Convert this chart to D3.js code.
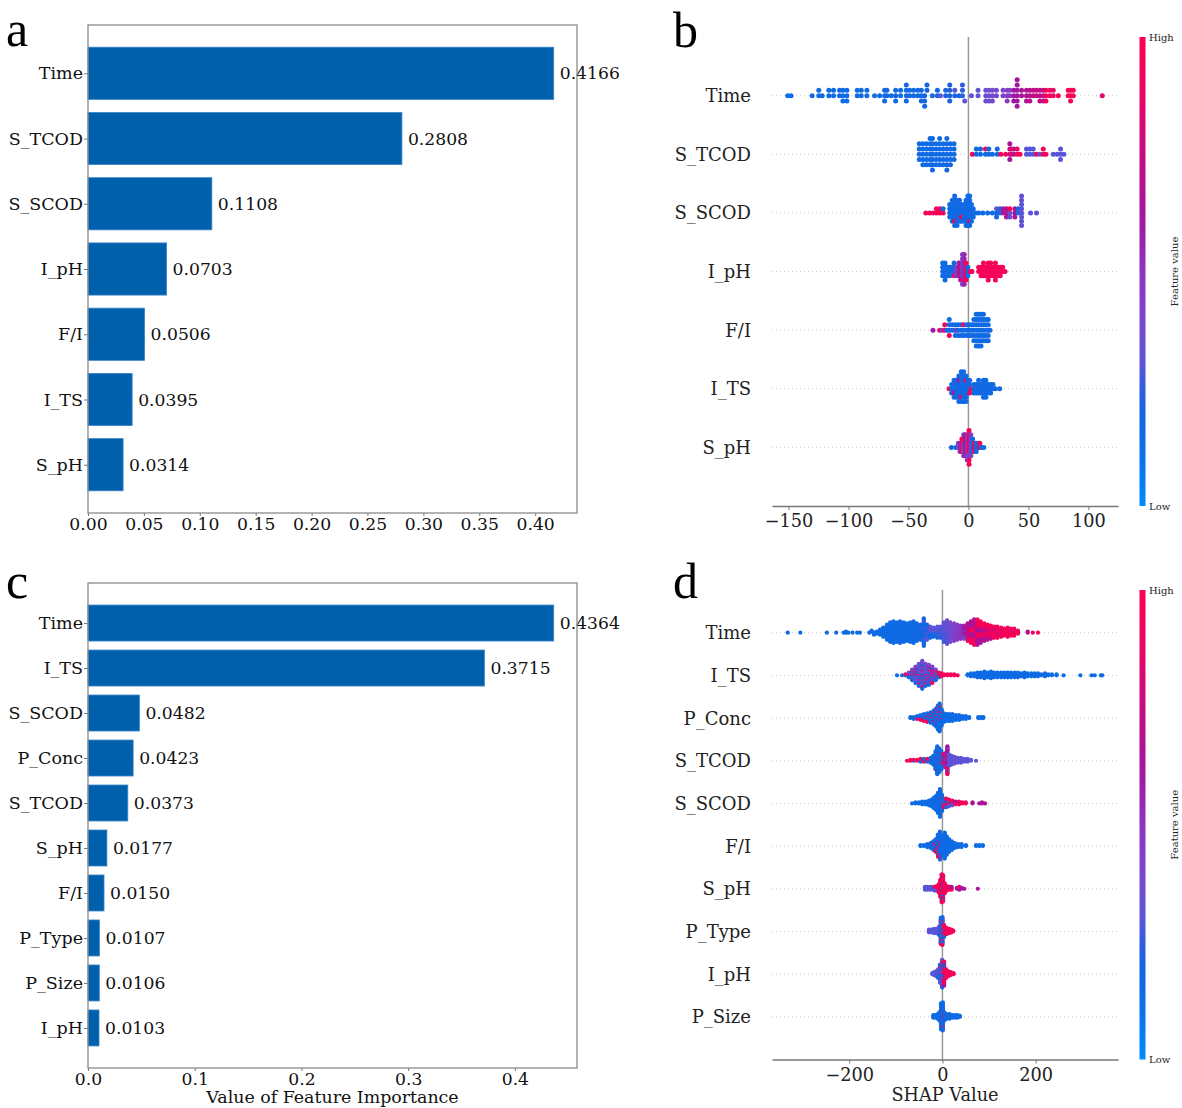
<!DOCTYPE html>
<html>
<head>
<meta charset="utf-8">
<script src="https://cdn.jsdelivr.net/npm/d3@7"></script>
<style>
  body { margin: 0; background: #fff; }
  svg text { font-family: "DejaVu Serif", serif; }
</style>
</head>
<body>
<svg id="chart" width="1182" height="1108"></svg>
<script>
// ---------- panel a / c : feature importance ----------
var featuresA = ["Time", "S_TCOD", "S_SCOD", "I_pH", "F/I", "I_TS", "S_pH"];
var importanceA = [0.4166, 0.2808, 0.1108, 0.0703, 0.0506, 0.0395, 0.0314];
var ticksA = [0, 0.05, 0.10, 0.15, 0.20, 0.25, 0.30, 0.35, 0.40];

var featuresC = ["Time", "I_TS", "S_SCOD", "P_Conc", "S_TCOD", "S_pH", "F/I", "P_Type", "P_Size", "I_pH"];
var importanceC = [0.4364, 0.3715, 0.0482, 0.0423, 0.0373, 0.0177, 0.0150, 0.0107, 0.0106, 0.0103];
var ticksC = [0, 0.1, 0.2, 0.3, 0.4];

// ---------- panel b / d : SHAP beeswarm ----------
// each entry: [shap value, number of samples at that value, normalised feature value]
var featuresB = ["Time", "S_TCOD", "S_SCOD", "I_pH", "F/I", "I_TS", "S_pH"];
var ticksB = [-150, -100, -50, 0, 50, 100];

var shapB_Time = [[-150.7,1,.14],[-147.9,1,.14],[-130.3,1,.14],[-124.8,2,.14],[-122,1,.14],[-116.4,2,.14],[-112.5,2,.14],[-107.5,2,.14],[-104.7,3,.14],[-101.4,3,.14],[-92.7,2,.15],[-89.4,2,.15],[-84.7,2,.15],[-78.3,1,.15],[-74.1,1,.15],[-69.9,3,.16],[-68,2,.16],[-64.4,1,.16],[-60.7,3,.16],[-56.6,2,.16],[-51.8,4,.17],[-49,2,.17],[-45.7,2,.17],[-42.1,2,.17],[-39.3,3,.18],[-36.5,3,.18],[-34.6,2,.18],[-30.1,1,.18],[-25.9,2,.2],[-23.4,1,.3],[-19,2,.2],[-15.6,4,.22],[-11.4,1,.22],[-11.4,1,.3],[-7.8,1,.22],[-5,3,.24],[-3.1,1,.32],[2.5,1,.32],[8,2,.32],[14.5,3,.35],[17.2,3,.35],[20,3,.38],[23.3,2,.38],[28.9,2,.42],[32.3,3,.45],[34.5,2,.45],[37.8,3,.62],[40.6,6,.62],[44.3,2,.65],[48.4,3,.65],[51.2,3,.7],[54,2,.75],[56.8,2,.7],[59.6,3,.75],[62.4,3,.7],[64.6,3,.95],[67.9,2,.9],[70.7,2,.9],[74.9,1,.95],[83.2,2,.95],[85.2,3,.95],[87.4,2,.95],[111.6,1,.85]];
var shapB_STCOD = [[-41,4,.15],[-38,5,.15],[-35,5,.15],[-32,6,.15],[-30,7,.15],[-27,5,.15],[-24,6,.16],[-21,5,.15],[-18,7,.15],[-15,5,.16],[-12,4,.15],[3.3,1,.95],[6.6,2,.16],[10,2,.16],[14.2,1,.16],[14.2,1,.95],[17,2,.16],[20,1,.16],[24,2,.16],[27,1,.95],[31,1,.95],[34.5,4,.65],[35.6,2,.95],[37.8,2,.65],[40.6,2,.95],[43,1,.95],[48.4,2,.3],[51.2,2,.27],[54,2,.3],[56.8,1,.95],[59.6,1,.3],[62.4,2,.95],[64.6,1,.95],[70.7,1,.3],[74,1,.3],[76.8,3,.3],[79.6,1,.3]];
var shapB_SSCOD = [[-35.6,1,.95],[-32.3,1,.95],[-29.5,1,.9],[-26.7,2,.95],[-23.9,2,.95],[-21.1,1,.95],[-21.1,1,.16],[-15.6,4,.16],[-13.5,6,.16],[-11.5,7,.16],[-11.5,1,.95],[-9.5,7,.16],[-7.5,6,.16],[-5.8,4,.16],[-5.8,1,.95],[-3.5,5,.16],[-2,7,.16],[-0.5,8,.16],[1,7,.16],[1,1,.95],[2.5,5,.16],[4,3,.16],[6,1,.16],[8.5,1,.16],[12,1,.16],[16,1,.16],[20,1,.16],[23.4,2,.16],[23.4,1,.35],[26.2,2,.16],[28.9,2,.65],[31.7,3,.65],[34.5,2,.35],[34.5,1,.95],[38.7,3,.65],[41.5,2,.16],[44.3,8,.32],[51.8,1,.32],[56.8,1,.32]];
var shapB_IpH = [[-21.5,4,.16],[-19.5,5,.16],[-17.5,3,.16],[-15.5,3,.16],[-13.5,2,.16],[-12,3,.16],[-12,1,.95],[-10,3,.45],[-8,4,.6],[-6.5,5,.65],[-5,7,.45],[-5,1,.95],[-3.5,8,.55],[-2,5,.95],[-0.5,3,.16],[1.5,1,.95],[3,1,.95],[8.5,2,.95],[10.5,3,.95],[12.5,4,.95],[14.5,3,.95],[16.5,5,.95],[18.5,4,.95],[20.5,3,.95],[22.5,5,.95],[24.5,3,.95],[26.5,3,.95],[28.5,2,.95],[30.5,1,.95]];
var shapB_FI = [[-29.6,1,.6],[-24,1,.95],[-22,1,.45],[-19.8,2,.95],[-18,1,.16],[-16,3,.16],[-16,1,.95],[-13.5,2,.16],[-11,3,.16],[-10,1,.5],[-8.5,3,.16],[-6,3,.16],[-4,2,.16],[-4,1,.95],[-1.5,3,.16],[0.5,3,.16],[2.5,3,.16],[4.5,5,.16],[6.5,7,.16],[8.5,7,.16],[10.5,7,.16],[12.5,6,.16],[14.5,5,.16],[16.5,5,.16],[18,1,.16]];
var shapB_ITS = [[-16.2,1,.95],[-14,3,.16],[-12,4,.16],[-12,1,.65],[-10,5,.16],[-8,6,.18],[-8,1,.65],[-6,7,.16],[-6,1,.95],[-4,8,.16],[-2,6,.16],[-2,1,.95],[-0.5,4,.18],[1,3,.16],[1,1,.95],[2.5,1,.95],[4.5,3,.16],[6.5,3,.16],[8.5,4,.16],[10.5,3,.16],[12.5,5,.16],[14.5,5,.16],[16.5,3,.16],[18.5,3,.16],[20.5,2,.16],[22.5,1,.16],[26.1,1,.16]];
var shapB_SpH = [[-14.2,1,.16],[-10.5,1,.16],[-8.5,2,.35],[-7,3,.55],[-5.5,4,.95],[-4,5,.4],[-4,1,.95],[-2.5,6,.65],[-1,7,.45],[0.5,8,.95],[0.5,1,.35],[2,6,.45],[3.5,4,.16],[5,3,.95],[6.5,3,.16],[8,2,.16],[9.5,2,.95],[11,1,.16],[12.8,1,.16]];

var featuresD = ["Time", "I_TS", "P_Conc", "S_TCOD", "S_SCOD", "F/I", "S_pH", "P_Type", "I_pH", "P_Size"];
var ticksD = [-200, 0, 200];

var shapD_Time = [[-332,1,.15],[-305,1,.15],[-248,1,.15],[-228,1,.15],[-212,1,.15],[-207,2,.15],[-202,1,.15],[-193,1,.15],[-183,1,.15],[-177,1,.15],[-157,1,.15],[-152,2,.15],[-147,3,.15],[-141,3,.15],[-134,6,.15],[-127,10,.15],[-119,16,.15],[-112,20,.15],[-105,22,.15],[-98,20,.15],[-91,22,.15],[-83,20,.15],[-76,18,.16],[-69,20,.16],[-62,22,.16],[-55,18,.17],[-47,16,.18],[-40,22,.18],[-40,6,.3],[-33,10,.18],[-33,6,.3],[-26,6,.2],[-26,6,.3],[-19,5,.2],[-19,5,.3],[-11,6,.2],[-11,6,.3],[-4,4,.2],[-4,8,.32],[3,6,.24],[3,14,.32],[10,4,.24],[10,20,.35],[17,20,.38],[25,18,.42],[32,16,.45],[39,14,.5],[46,10,.6],[46,4,.35],[54,12,.65],[54,6,.95],[61,12,.65],[61,10,.95],[68,14,.65],[68,12,.95],[75,12,.65],[75,14,.95],[82,10,.65],[82,12,.95],[90,8,.65],[90,10,.95],[97,6,.7],[97,10,.95],[104,4,.7],[104,10,.95],[111,3,.7],[111,9,.95],[118,2,.7],[118,10,.95],[126,2,.7],[126,8,.95],[133,8,.95],[140,10,.95],[147,2,.75],[147,6,.95],[154,8,.95],[162,4,.95],[183,2,.7],[194,1,.95],[205,1,.95]];
var shapD_ITS = [[-97.5,1,.15],[-86.6,1,.15],[-79.5,1,.15],[-79.5,1,.95],[-72.3,2,.15],[-72.3,3,.35],[-72.3,1,.95],[-65,4,.15],[-65,6,.35],[-65,2,.95],[-57.8,6,.16],[-57.8,9,.38],[-57.8,3,.95],[-50.7,8,.16],[-50.7,13,.38],[-50.7,3,.95],[-43.3,12,.16],[-43.3,14,.4],[-43.3,4,.95],[-36.2,8,.16],[-36.2,13,.4],[-36.2,3,.9],[-29,7,.16],[-29,11,.42],[-29,4,.95],[-21.7,5,.16],[-21.7,8,.45],[-21.7,5,.95],[-14.5,4,.16],[-14.5,5,.45],[-14.5,3,.95],[-7.4,3,.16],[-7.4,3,.95],[-2.2,4,.95],[3.5,2,.95],[10.8,2,.95],[18,2,.95],[25.1,2,.95],[32.5,1,.95],[54,2,.15],[61,4,.15],[68,4,.15],[75,6,.15],[82,6,.15],[90,8,.15],[97,6,.15],[104,8,.15],[111,6,.15],[118,6,.15],[126,6,.15],[133,6,.15],[140,6,.15],[147,6,.15],[155,6,.15],[162,6,.15],[169,4,.15],[176,6,.15],[183,4,.15],[191,4,.15],[198,4,.15],[205,4,.15],[212,2,.15],[220,4,.15],[227,2,.15],[235,2,.15],[245,2,.15],[260,1,.15],[296,1,.15],[320,1,.15],[327,1,.15],[340,1,.15],[343,1,.15]];
var shapD_PConc = [[-68.7,2,.15],[-61.5,3,.15],[-54.3,3,.15],[-54.3,1,.95],[-47.1,4,.15],[-47.1,2,.95],[-39.9,6,.15],[-39.9,2,.95],[-32.7,7,.15],[-32.7,3,.95],[-25.5,10,.15],[-25.5,2,.95],[-18.3,13,.15],[-18.3,3,.95],[-13.3,16,.15],[-13.3,4,.95],[-9.7,23,.15],[-9.7,3,.95],[-6.1,27,.15],[-6.1,3,.95],[-1.8,16,.15],[-1.8,2,.95],[3.2,10,.15],[9,8,.15],[14.8,8,.15],[21.3,8,.15],[28.5,6,.15],[35.7,6,.15],[42.9,4,.15],[50.1,4,.15],[57.4,2,.15],[76.9,2,.15],[82.7,2,.15],[87.8,2,.15]];
var shapD_STCOD = [[-75.8,1,.95],[-68.7,2,.95],[-61.5,1,.15],[-61.5,1,.95],[-54.3,2,.95],[-47.1,2,.15],[-47.1,2,.95],[-39.9,2,.15],[-39.9,1,.3],[-39.9,1,.95],[-32.7,2,.15],[-32.7,2,.95],[-25.5,5,.15],[-25.5,1,.95],[-19.7,10,.15],[-14.7,20,.15],[-11.1,28,.15],[-11.1,2,.95],[-6.8,24,.15],[-6.8,2,.95],[-2.4,20,.15],[1.9,6,.95],[1.9,4,.65],[1.9,4,.15],[7,6,.95],[7,6,.65],[7,4,.3],[10.6,16,.62],[10.6,8,.95],[10.6,6,.3],[14.9,12,.3],[20,10,.32],[25.8,8,.32],[32.3,6,.32],[39.5,6,.32],[46.8,4,.32],[54,4,.32],[61.2,2,.32],[72,1,.32]];
var shapD_SSCOD = [[-65.1,1,.15],[-57.9,2,.15],[-50.7,2,.15],[-43.5,4,.15],[-36.3,4,.15],[-29,6,.15],[-23.3,8,.15],[-18.3,12,.15],[-13.3,16,.15],[-9.7,22,.15],[-5.3,30,.15],[-1,16,.15],[-1,2,.95],[3.3,6,.15],[3.3,4,.95],[8.3,4,.15],[8.3,4,.95],[8.3,2,.65],[14.1,2,.15],[14.1,2,.3],[14.1,4,.95],[21.3,3,.3],[21.3,3,.95],[28.5,2,.95],[28.5,2,.65],[35.7,4,.95],[42.9,2,.95],[50.1,2,.95],[64.6,2,.65],[79.1,1,.65],[84.9,2,.65],[91.4,1,.65]];
var shapD_FI = [[-47.1,2,.15],[-39.9,2,.15],[-32.7,4,.15],[-25.5,6,.15],[-19.7,8,.15],[-19.7,2,.95],[-14.7,10,.15],[-14.7,4,.95],[-9.7,18,.15],[-9.7,6,.95],[-5.3,24,.15],[-5.3,4,.95],[-5.3,2,.65],[0,22,.15],[5,28,.15],[9.4,20,.15],[14.4,14,.15],[20.2,10,.15],[26.7,6,.15],[33.9,4,.15],[41.1,4,.15],[50.5,2,.15],[72.2,2,.15],[79.4,2,.15],[86.7,2,.15]];
var shapD_SpH = [[-37.6,4,.3],[-32.6,4,.3],[-26.8,4,.3],[-21.7,4,.3],[-16.7,3,.3],[-16.7,2,.95],[-12.4,3,.3],[-12.4,3,.95],[-8,10,.95],[-4.4,20,.95],[-1.5,26,.95],[-1.5,6,.15],[1.4,24,.95],[1.4,4,.15],[1.4,2,.65],[5,12,.95],[9.4,6,.95],[14.4,4,.95],[19.5,2,.95],[19.5,2,.65],[31,2,.65],[36.1,2,.65],[36.1,2,.95],[41.1,2,.65],[47,1,.65],[75.9,1,.65]];
var shapD_PType = [[-28.9,4,.3],[-23.8,4,.3],[-18,6,.3],[-12.3,6,.3],[-7.2,6,.3],[-7.2,4,.15],[-3.6,18,.15],[-3.6,6,.3],[-3.6,6,.95],[0,20,.15],[0,8,.95],[0,4,.3],[3.6,10,.95],[3.6,4,.15],[8.7,8,.95],[14.4,6,.95],[19.5,4,.95],[23.1,2,.95]];
var shapD_IpH = [[-21.7,2,.3],[-18,4,.3],[-13.7,6,.3],[-9.4,6,.3],[-9.4,4,.15],[-5.1,10,.15],[-5.1,8,.3],[-5.1,2,.95],[-0.7,10,.15],[-0.7,10,.3],[-0.7,6,.95],[-0.7,4,.65],[3.6,12,.95],[3.6,8,.65],[3.6,6,.15],[8,10,.95],[13,6,.95],[18.1,4,.95],[23.8,2,.95]];
var shapD_PSize = [[-19.5,4,.15],[-14.4,4,.15],[-10.1,6,.15],[-6.5,10,.15],[-2.9,29,.15],[-2.9,1,.95],[0.7,30,.15],[0.7,2,.95],[4.3,8,.15],[4.3,2,.95],[9.4,6,.15],[15.2,6,.15],[21,4,.15],[26.8,4,.15],[32.5,4,.15],[37.6,2,.15]];

var rowsB = [shapB_Time, shapB_STCOD, shapB_SSCOD, shapB_IpH, shapB_FI, shapB_ITS, shapB_SpH];
var rowsD = [shapD_Time, shapD_ITS, shapD_PConc, shapD_STCOD, shapD_SSCOD, shapD_FI, shapD_SpH, shapD_PType, shapD_IpH, shapD_PSize];

var svg = d3.select("#chart");
svg.append("rect").attr("width", 1182).attr("height", 1108).attr("fill", "#fff");

// blue -> violet -> magenta -> red
var shapColor = d3.scaleLinear()
  .domain([0, 0.12, 0.22, 0.3, 0.4, 0.5, 0.62, 0.75, 0.88, 1])
  .range(["#008bfb", "#0a6fe6", "#1a62e0", "#5a55d8", "#7a46cc", "#8e34c0", "#a3159f", "#c50c82", "#e80764", "#ff0051"])
  .interpolate(d3.interpolateRgb)
  .clamp(true);

function drawBars(features, values, ticks, fmt, box) {
  var n = features.length;
  var pad = 0.05 * (n - 1 + 0.8);
  var x = d3.scaleLinear().domain([0, d3.max(values) * 1.05]).range([box.left, box.right]);
  var y = d3.scaleLinear().domain([-0.4 - pad, n - 1 + 0.4 + pad]).range([box.top, box.bottom]);
  var g = svg.append("g");

  g.selectAll("rect.bar")
    .data(values)
    .enter()
    .append("rect")
    .attr("class", "bar")
    .attr("x", x(0))
    .attr("y", function(d, i) { return y(i - 0.4); })
    .attr("width", function(d) { return x(d) - x(0); })
    .attr("height", y(0.4) - y(-0.4))
    .attr("fill", "#0060ab")
    .attr("stroke", "#3a86cc")
    .attr("stroke-width", 0.8);

  g.selectAll("text.val")
    .data(values)
    .enter()
    .append("text")
    .attr("class", "val")
    .attr("x", function(d) { return x(d) + 6; })
    .attr("y", function(d, i) { return y(i); })
    .attr("dy", "0.36em")
    .style("font-size", "17.2px")
    .attr("fill", "#111")
    .text(function(d) { return d.toFixed(4); });

  var xa = g.append("g")
    .attr("transform", "translate(0," + box.bottom + ")")
    .call(d3.axisBottom(x).tickValues(ticks).tickFormat(fmt).tickSize(3).tickSizeOuter(0));
  xa.selectAll("text").attr("y", 17).attr("dy", null).style("font-size", "17.2px").attr("fill", "#111");

  var ya = g.append("g")
    .attr("transform", "translate(" + box.left + ",0)")
    .call(d3.axisLeft(y).tickValues(d3.range(n)).tickFormat(function(i) { return features[i]; }).tickSize(4).tickPadding(1).tickSizeOuter(0));
  ya.selectAll("text").style("font-size", "17.5px").attr("fill", "#111");

  g.selectAll(".domain").remove();
  g.selectAll(".tick line").attr("stroke", "#777");

  g.append("rect")
    .attr("x", box.left)
    .attr("y", box.top)
    .attr("width", box.right - box.left)
    .attr("height", box.bottom - box.top)
    .attr("fill", "none")
    .attr("stroke", "#8a8a8a")
    .attr("stroke-width", 1.3);
  return g;
}

// beeswarm layout as in shap.summary_plot (100 bins, alternating layers)
function layoutRow(groups) {
  var pts = [];
  groups.forEach(function(gr, gi) {
    for (var k = 0; k < gr[1]; k++) {
      pts.push({ shap: gr[0], fval: gr[2], rank: (k + 0.5) / gr[1], gi: gi });
    }
  });
  var lo = d3.min(pts, function(p) { return p.shap; });
  var hi = d3.max(pts, function(p) { return p.shap; });
  pts.forEach(function(p) { p.bin = Math.round(100 * (p.shap - lo) / (hi - lo + 1e-8)); });
  pts.sort(function(a, b) { return a.bin - b.bin || a.rank - b.rank || a.gi - b.gi; });
  var layer = 0, last = -1;
  pts.forEach(function(p) {
    if (p.bin !== last) layer = 0;
    p.ys = Math.ceil(layer / 2) * ((layer % 2) * 2 - 1);
    layer++;
    last = p.bin;
  });
  var m = d3.max(pts, function(p) { return p.ys; });
  var k = 0.9 * (0.4 / (m + 1));
  pts.forEach(function(p) { p.off = p.ys * k; });
  return pts;
}

function drawSwarm(features, rows, ticks, box, r, gradId, xlabel) {
  var n = features.length;
  var all = [];
  rows.forEach(function(rw) { rw.forEach(function(gr) { all.push(gr[0]); }); });
  var lo = d3.min(all), hi = d3.max(all), pad = 0.05 * (hi - lo);
  var x = d3.scaleLinear().domain([lo - pad, hi + pad]).range([box.left, box.right]);
  var y = d3.scaleLinear().domain([-1, n]).range([box.bottom, box.top]);
  var g = svg.append("g");

  // dotted row guides and zero line
  g.selectAll("line.guide")
    .data(features)
    .enter()
    .append("line")
    .attr("x1", box.left).attr("x2", box.right)
    .attr("y1", function(d, i) { return y(n - 1 - i); })
    .attr("y2", function(d, i) { return y(n - 1 - i); })
    .attr("stroke", "#cccccc")
    .attr("stroke-width", 1)
    .attr("stroke-dasharray", "1,3");

  g.append("line")
    .attr("x1", x(0)).attr("x2", x(0))
    .attr("y1", box.top).attr("y2", box.bottom)
    .attr("stroke", "#999999")
    .attr("stroke-width", 1.5);

  rows.forEach(function(rw, i) {
    var pts = layoutRow(rw);
    var pos = n - 1 - i;
    g.append("g")
      .selectAll("circle")
      .data(pts)
      .enter()
      .append("circle")
      .attr("cx", function(p) { return x(p.shap); })
      .attr("cy", function(p) { return y(pos + p.off); })
      .attr("r", r)
      .attr("fill", function(p) { return shapColor(p.fval); });
  });

  g.selectAll("text.feat")
    .data(features)
    .enter()
    .append("text")
    .attr("class", "feat")
    .attr("x", box.left - 21)
    .attr("y", function(d, i) { return y(n - 1 - i); })
    .attr("dy", "0.36em")
    .attr("text-anchor", "end")
    .style("font-size", "18px")
    .attr("fill", "#222")
    .text(function(d) { return d; });

  var xa = g.append("g")
    .attr("transform", "translate(0," + box.bottom + ")")
    .call(d3.axisBottom(x).tickValues(ticks).tickFormat(d3.format("d")).tickSize(4).tickSizeOuter(0));
  xa.select(".domain").attr("stroke", "#777").attr("stroke-width", 1.3);
  xa.selectAll(".tick line").attr("stroke", "#777");
  xa.selectAll("text").attr("y", 21).attr("dy", null).style("font-size", "17.7px").attr("fill", "#222");

  if (xlabel) {
    g.append("text")
      .attr("x", (box.left + box.right) / 2)
      .attr("y", box.bottom + 41)
      .attr("text-anchor", "middle")
      .style("font-size", "17.7px")
      .attr("fill", "#222")
      .text(xlabel);
  }

  // colour bar
  var grad = svg.append("defs").append("linearGradient")
    .attr("id", gradId)
    .attr("x1", 0).attr("y1", 1).attr("x2", 0).attr("y2", 0);
  grad.selectAll("stop")
    .data(d3.range(0, 1.0001, 0.05))
    .enter()
    .append("stop")
    .attr("offset", function(t) { return t; })
    .attr("stop-color", function(t) { return shapColor(t); });

  g.append("rect")
    .attr("x", 1139.5)
    .attr("y", box.top)
    .attr("width", 6)
    .attr("height", box.bottom - box.top)
    .attr("fill", "url(#" + gradId + ")");
  g.append("text").attr("x", 1149).attr("y", box.top).attr("dy", "0.35em")
    .style("font-size", "10px").attr("fill", "#222").text("High");
  g.append("text").attr("x", 1149).attr("y", box.bottom).attr("dy", "0.35em")
    .style("font-size", "10px").attr("fill", "#222").text("Low");
  var cy = (box.top + box.bottom) / 2;
  g.append("text")
    .attr("transform", "translate(1178," + cy + ") rotate(-90)")
    .attr("text-anchor", "middle")
    .style("font-size", "10px")
    .attr("fill", "#222")
    .text("Feature value");
}

drawBars(featuresA, importanceA, ticksA, d3.format(".2f"), {left: 88, right: 577, top: 25, bottom: 513});
var gc = drawBars(featuresC, importanceC, ticksC, d3.format(".1f"), {left: 88, right: 577, top: 583, bottom: 1068});
gc.append("text")
  .attr("x", 332.5)
  .attr("y", 1103)
  .attr("text-anchor", "middle")
  .style("font-size", "17.4px")
  .attr("fill", "#111")
  .text("Value of Feature Importance");

drawSwarm(featuresB, rowsB, ticksB, {left: 772, right: 1118, top: 37, bottom: 506}, 2.5, "cbB", null);
drawSwarm(featuresD, rowsD, ticksD, {left: 772, right: 1118, top: 590, bottom: 1059.5}, 2.1, "cbD", "SHAP Value");

// panel letters
var letters = [["a", 6, 46], ["b", 673, 47], ["c", 6, 598], ["d", 673, 598]];
svg.selectAll("text.letter")
  .data(letters)
  .enter()
  .append("text")
  .attr("class", "letter")
  .attr("x", function(d) { return d[1]; })
  .attr("y", function(d) { return d[2]; })
  .style("font-family", "'Liberation Serif', 'Times New Roman', serif")
  .style("font-size", "50px")
  .attr("fill", "#000")
  .text(function(d) { return d[0]; });
</script>
</body>
</html>
